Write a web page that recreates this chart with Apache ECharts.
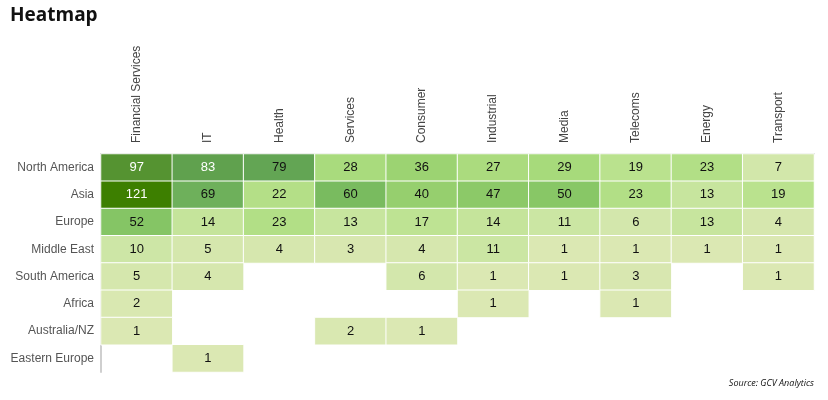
<!DOCTYPE html>
<html>
<head>
<meta charset="utf-8">
<script src="https://cdn.jsdelivr.net/npm/echarts@6/dist/echarts.min.js"></script>
<style>html,body{margin:0;padding:0;background:#fff}#c{width:828px;height:400px}</style>
</head>
<body>
<div id="c"></div>
<script>
const sectors = ['Financial Services','IT','Health','Services','Consumer','Industrial','Media','Telecoms','Energy','Transport'];
const regions = ['North America','Asia','Europe','Middle East','South America','Africa','Australia/NZ','Eastern Europe'];
const northAmerica = [97,83,79,28,36,27,29,19,23,7];
const asia = [121,69,22,60,40,47,50,23,13,19];
const europe = [52,14,23,13,17,14,11,6,13,4];
const middleEast = [10,5,4,3,4,11,1,1,1,1];
const southAmerica = [5,4,null,null,6,1,1,3,null,1];
const africa = [2,null,null,null,null,1,null,1,null,null];
const australiaNZ = [1,null,null,2,1,null,null,null,null,null];
const easternEurope = [null,1,null,null,null,null,null,null,null,null];
const rows = [northAmerica, asia, europe, middleEast, southAmerica, africa, australiaNZ, easternEurope];

const data = [];
rows.forEach((r, yi) => r.forEach((v, xi) => {
  if (v !== null) data.push(v >= 80 ? { value: [xi, yi, v], label: { color: '#fff' } } : { value: [xi, yi, v] });
}));

const chart = echarts.init(document.getElementById('c'));
chart.setOption({
  animation: false,
  title: {
    text: 'Heatmap', left: 5, top: 1,
    textStyle: { fontFamily: 'Open Sans', fontWeight: 700, fontSize: 19, color: '#111' }
  },
  grid: { left: 101, right: 14, top: 154, bottom: 28 },
  xAxis: {
    type: 'category', data: sectors, position: 'top',
    axisLine: { lineStyle: { color: '#cfcfcf', width: 2 } },
    axisTick: { show: false }, splitLine: { show: false },
    axisLabel: { rotate: -90, margin: 11, fontFamily: 'Liberation Sans', fontSize: 12, color: '#444' }
  },
  yAxis: {
    type: 'category', data: regions, inverse: true,
    axisLine: { lineStyle: { color: '#cfcfcf', width: 2 } },
    axisTick: { show: false }, splitLine: { show: false },
    axisLabel: { margin: 7, fontFamily: 'Liberation Sans', fontSize: 12, color: '#555' }
  },
  visualMap: {
    show: false, type: 'continuous', min: 0, max: 120, dimension: 2,
    inRange: { color: ['#dce8b4','#cde6a6','#b8e18b','#a5d979','#96cf6e','#88c766','#79bb5f','#6daf5a','#62a453','#5a9a42','#53902a','#488815','#3d7f00'] }
  },
  series: [{
    type: 'heatmap', data: data,
    itemStyle: { borderColor: '#fff', borderWidth: 1 },
    label: {
      show: true, fontFamily: 'Liberation Sans', fontSize: 13, color: '#111',
      formatter: p => p.value[2]
    }
  }],
  graphic: [{
    type: 'text', right: 14, top: 379,
    style: { text: 'Source: GCV Analytics', font: 'italic 9px "Open Sans"', fill: '#111' }
  }]
});
</script>
</body>
</html>
